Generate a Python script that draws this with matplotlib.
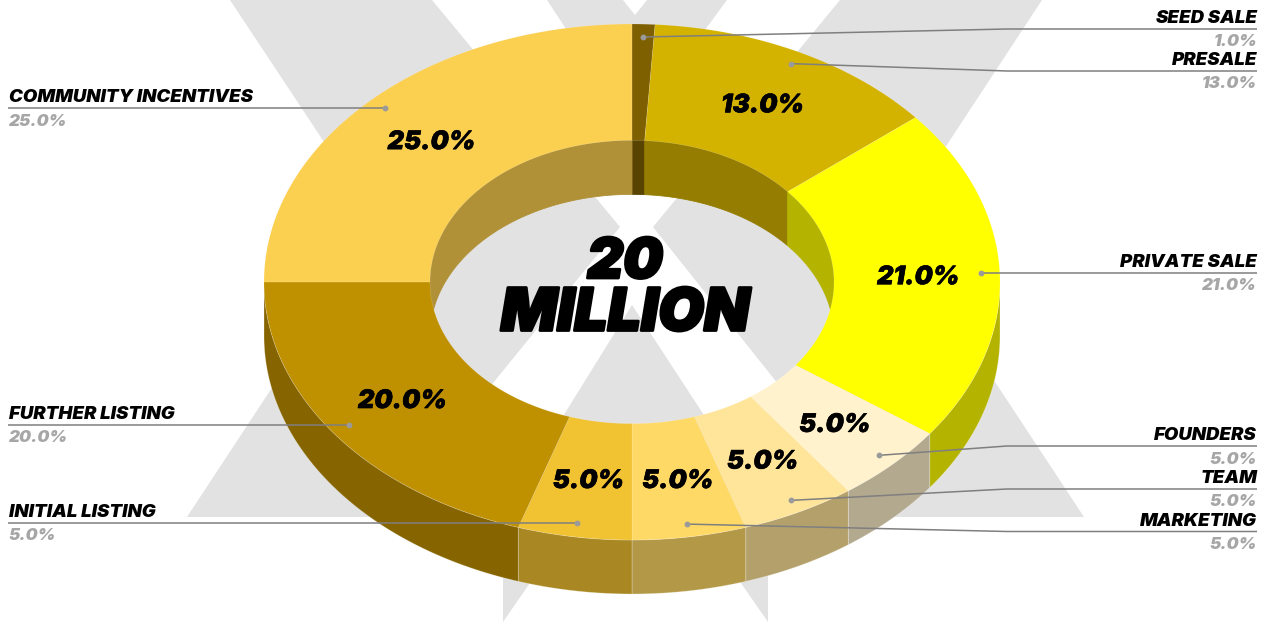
import numpy as np
import matplotlib
matplotlib.use("Agg")
import matplotlib.pyplot as plt
from matplotlib.patches import Polygon
import matplotlib.patheffects as pe

# Token allocation, clockwise from twelve o'clock
categories = ["SEED SALE", "PRESALE", "PRIVATE SALE", "FOUNDERS", "TEAM",
              "MARKETING", "INITIAL LISTING", "FURTHER LISTING", "COMMUNITY INCENTIVES"]
shares = [1.0, 13.0, 21.0, 5.0, 5.0, 5.0, 5.0, 20.0, 25.0]
slice_colors = ["#7f6000", "#d4b200", "#ffff00", "#fff2cc", "#ffe599",
                "#ffd966", "#f1c232", "#bf9000", "#fbcf4f"]
center_title = ["20", "MILLION"]

# Height of each callout's rule and where it bends (None = straight rule)
callout_rows = [29, 71, 273, 446, 489, 531.5, 523, 425, 108]
callout_bend = [1007, 1007, None, 1007, 1007, 1007, None, None, None]

W, H = 1268, 623
CX, CY = 632, 282
RX, RY = 368, 258
HOLE = 0.549
DEPTH = 54
WALL_SHADE = 0.7
LABEL_R = 0.775
ANCHOR_R = 0.95
MIN_RING_LABEL = 2.0
RIGHT_X, LEFT_X = 1257, 9

FONT = dict(family="Inter", weight=900, style="italic")


def ellipse_pt(theta, frac=1.0, dz=0.0):
    t = np.radians(theta)
    return CX + RX * frac * np.sin(t), CY - RY * frac * np.cos(t) + dz


def arc(a0, a1, frac=1.0, dz=0.0):
    th = np.linspace(a0, a1, max(int(abs(a1 - a0) * 2), 2))
    x, y = ellipse_pt(th, frac, dz)
    return np.column_stack([x, y])


def shade(color):
    return tuple(c * WALL_SHADE for c in matplotlib.colors.to_rgb(color))


def overlap(a0, a1, lo, hi):
    s, e = max(a0, lo), min(a1, hi)
    return (s, e) if e > s else None


def wall(a0, a1, frac, color, ax, seam=False):
    pts = np.vstack([arc(a0, a1, frac), arc(a1, a0, frac, DEPTH)])
    ec = (1, 1, 1, 0.3) if seam else color
    ax.add_patch(Polygon(pts, closed=True, facecolor=color, edgecolor=ec, lw=0.6, zorder=3))


fig = plt.figure(figsize=(W / 100, H / 100), dpi=100, facecolor="white")
ax = fig.add_axes([0, 0, 1, 1])
ax.set_xlim(0, W)
ax.set_ylim(H, 0)
ax.axis("off")

# Watermark X behind the ring
BACK = "#e2e2e2"
watermark = [
    [(230, 0), (432, 0), (620, 227), (384, 517), (187, 517), (379, 225)],
    [(840, 0), (1042, 0), (893, 227), (1084, 517), (884, 517), (653, 227)],
    [(547, 0), (623, 0), (635, 15), (647, 0), (727, 0), (632, 129)],
    [(632, 305), (503, 513), (503, 622), (635, 431), (768, 622), (768, 513)],
]
for shape in watermark:
    ax.add_patch(Polygon(shape, closed=True, facecolor=BACK, edgecolor="none", zorder=1))

edges = np.cumsum([0] + shares) / np.sum(shares) * 360
mids = (edges[:-1] + edges[1:]) / 2

# Inner wall (far side of the hole) and outer wall (near side)
for a0, a1, col in zip(edges[:-1], edges[1:], slice_colors):
    dark = shade(col)
    for lo, hi in [(0, 90), (270, 360)]:
        part = overlap(a0, a1, lo, hi)
        if part:
            wall(*part, HOLE, dark, ax)
    part = overlap(a0, a1, 90, 270)
    if part:
        wall(*part, 1.0, dark, ax, seam=True)

# Top faces
for a0, a1, col in zip(edges[:-1], edges[1:], slice_colors):
    pts = np.vstack([arc(a0, a1), arc(a1, a0, HOLE)])
    ax.add_patch(Polygon(pts, closed=True, facecolor=col, edgecolor=(1, 1, 1, 0.18), lw=0.5, zorder=4))

# Percentages on the ring, skipping slivers too thin to hold one
for mid, val in zip(mids, shares):
    if val < MIN_RING_LABEL:
        continue
    x, y = ellipse_pt(mid, LABEL_R)
    ax.text(x + 1, y + 2, f"{val:.1f}%", ha="center", va="center", fontsize=18.4, color="black", zorder=7,
            path_effects=[pe.withStroke(linewidth=0.4, foreground="black")], **FONT)

# Callouts
for mid, name, val, row, bend in zip(mids, categories, shares, callout_rows, callout_bend):
    x0, y0 = ellipse_pt(mid, ANCHOR_R)
    right = mid < 180
    end = RIGHT_X if right else LEFT_X - 1
    xs = [x0, bend, end] if bend else [x0, end]
    ys = [y0, row, row] if bend else [row, row]
    ax.plot(xs, ys, color="#7f7f7f", lw=1.1, zorder=5, solid_capstyle="butt")
    ax.plot([x0], [ys[0]], "o", ms=4.2, color="#9a9a9a", mec="none", zorder=6)
    tx = RIGHT_X if right else LEFT_X
    ha = "right" if right else "left"
    ax.text(tx, row - 10.5, name, ha=ha, va="center", fontsize=13.4, color="black", zorder=7, **FONT)
    ax.text(tx, row + 13, f"{val:.1f}%", ha=ha, va="center", fontsize=12.2, color="#a6a6a6", zorder=7, **FONT)

# Total supply in the hole
for line, y, size in zip(center_title, [263, 315], [40, 42.5]):
    ax.text(625, y, line, ha="center", va="center", fontsize=size, color="black", zorder=7,
            path_effects=[pe.withStroke(linewidth=2.0, foreground="black")], **FONT)

fig.savefig("out.png", dpi=100, facecolor="white")
